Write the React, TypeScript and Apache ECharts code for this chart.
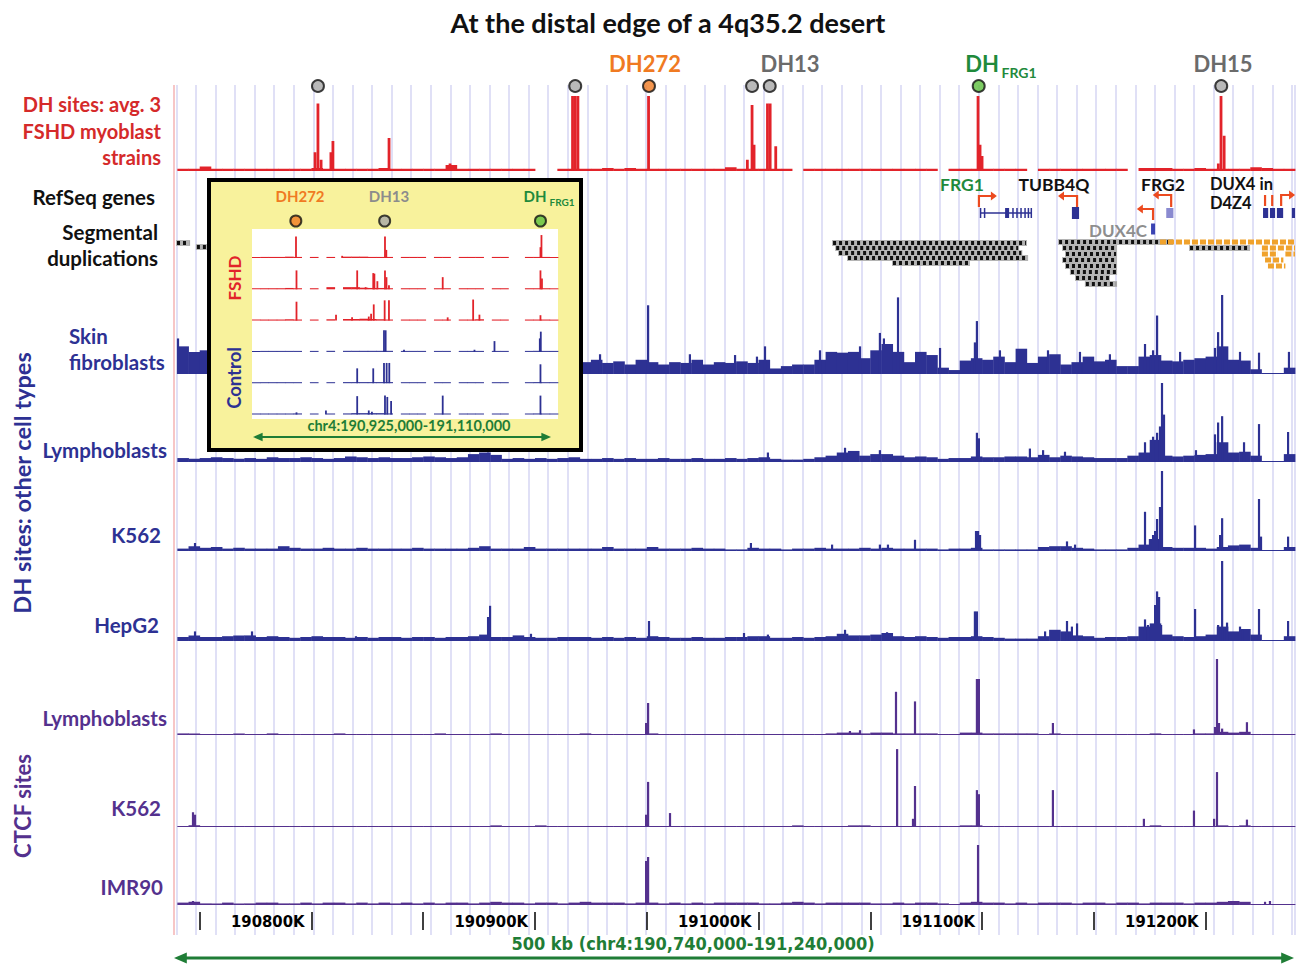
import { useEffect, useRef } from 'react';
import * as echarts from 'echarts';

// ---------- genomic ranges (kb) ----------
const MAIN_MIN = 190738.5;
const MAIN_MAX = 191240;
const BIN_START = 190740;
const BIN_KB = 5;
const INSET_MIN = 190925;
const INSET_MAX = 191110;
const INSET_BIN_KB = 5;
const RULER_MIN = 190750;
const RULER_MAX = 191250;
const RULER_STEP = 50;

// ---------- DH site markers ----------
const dhSiteKb = [190802.9, 190918.0, 190951.0, 190997.1, 191005.0, 191098.5, 191207.0];
const dhSiteColor = ['gray', 'gray', 'orange', 'gray', 'gray', 'green', 'gray'];
const insetSiteKb = [190951.5, 191005.2, 191099.4];
const insetSiteColor = ['orange', 'gray', 'green'];

// ---------- main tracks: 5 kb background bins + peaks [kb, height %] ----------
const fshdBase = [3,3,6,3,3,3,3,3,3,3, 3,3,4,3,3,3,3,3,4,3, 3,3,3,3,8,3,3,3,3,3, 3,3,null,null,3,3,3,3,4,3, 4,3,3,3,3,3,3,3,3,5, 3,3,3,3,3,null,3,3,3,3, 3,3,3,3,3,3,3,3,null,3, 3,3,3,3,3,3,null,3,3,3, 3,3,3,3,3,null,4,4,4,3, 3,4,3,3,3,3,5,4,3,3];
const fshdPeaks = [[190801.6,25],[190802.9,90],[190804.3,15],[190808.7,25],[190809.6,40],[190834.7,44],[190862.0,10],[190916.8,100],[190918.0,100],[190919.2,100],[190950.8,100],[190995.0,15],[190997.1,88],[190998.0,35],[191004.0,90],[191005.2,90],[191007.7,33],[191098.2,100],[191099.1,35],[191100.0,20],[191205.7,10],[191206.9,100],[191208.3,47]];

const skinBase = [35,28,30,18,20,16,22,18,20,17, 19,22,18,16,21,19,17,23,18,20, 16,18,21,19,17,20,18,22,19,16, 20,18,17,21,19,16,15,18,14,16, 12,18,15,12,15,14,18,12,15,14, 16,14,18,7,10,12,12,18,28,27, 28,20,30,38,28,15,28,24,8,5, 17,20,18,22,15,32,14,22,25,12, 15,22,16,18,10,10,22,24,17,16, 18,20,22,35,18,17,6,0,0,8];
const skinPeaks = [[190740.3,45],[190929.1,25],[190950.6,87],[190969.3,25],[190989.5,24],[190999.3,22],[191002.9,35],[191027.5,30],[191045.4,35],[191054.3,52],[191056.1,45],[191062.4,97],[191081.2,33],[191096.8,40],[191097.7,67],[191108.0,30],[191129.5,30],[191143.8,28],[191157.2,25],[191172.9,38],[191176.5,30],[191178.3,74],[191188.6,28],[191204.2,33],[191205.6,53],[191207.4,100],[191215.4,28],[191223.9,27],[191237.3,28]];

const lymphDhBase = [5,4,5,6,5,4,5,4,6,5, 5,6,5,4,5,7,6,5,6,5, 5,6,7,6,5,6,10,12,9,4, 5,4,5,4,5,6,4,4,5,4, 5,4,4,5,4,4,5,4,4,5, 4,5,6,4,3,3,4,6,8,12, 14,8,10,10,8,6,7,6,4,5, 5,7,6,6,7,7,6,9,6,8, 7,6,5,5,5,8,12,28,8,7, 8,9,10,25,12,13,8,0,0,10];
const lymphDhPeaks = [[190879.0,12],[191004.2,12],[191038.7,18],[191054.3,15],[191097.7,37],[191098.6,30],[191121.4,17],[191127.3,15],[191137.1,13],[191172.9,25],[191176.5,32],[191178.3,37],[191179.6,45],[191180.5,100],[191181.4,60],[191195.7,15],[191204.2,35],[191205.6,50],[191207.4,58],[191217.2,25],[191223.9,48],[191236.9,38]];

const k562DhBase = [3,6,4,5,3,4,3,3,3,6, 4,3,3,4,3,3,4,3,3,3, 3,4,3,3,3,3,4,6,3,3, 3,5,3,3,3,3,3,3,5,3, 3,3,5,3,3,3,4,3,3,2, 2,4,3,3,2,3,3,4,3,3, 3,4,3,4,3,3,3,3,2,3, 3,4,2,2,2,2,2,5,6,6, 4,3,2,2,2,4,8,15,5,4, 4,4,3,5,7,8,4,0,0,5];
const k562DhPeaks = [[190747.9,10],[190996.6,10],[191032.9,8],[191054.3,8],[191057.9,8],[191070.0,14],[191097.3,25],[191098.2,25],[191099.1,20],[191138.0,12],[191141.6,8],[191172.9,49],[191175.1,15],[191176.5,20],[191177.4,25],[191178.3,40],[191179.6,55],[191180.5,100],[191195.3,32],[191206.5,20],[191207.4,41],[191223.9,65],[191224.8,18],[191236.9,18]];

const hepg2Base = [5,7,5,5,6,7,7,5,6,5, 4,5,6,5,5,4,5,4,5,5, 4,5,5,4,5,5,6,8,5,5, 7,5,4,4,5,5,5,4,5,4, 5,4,6,5,4,4,5,4,4,5, 5,6,6,4,4,5,4,5,6,9, 7,7,8,10,6,5,6,5,4,5, 5,6,5,4,3,3,3,6,14,12, 7,6,4,5,5,6,18,22,8,6, 5,6,8,18,12,15,8,0,0,6];
const hepg2Peaks = [[190747.9,12],[190773.4,12],[190819.9,6],[190879.0,30],[190879.9,44],[190898.2,9],[190951.0,25],[190993.5,10],[191004.2,8],[191038.7,14],[191057.5,11],[191096.8,37],[191097.7,37],[191128.2,12],[191138.0,25],[191140.2,18],[191142.5,22],[191172.9,27],[191174.2,20],[191177.4,45],[191178.3,62],[191179.2,55],[191180.1,20],[191195.3,40],[191205.6,20],[191207.4,100],[191209.6,23],[191215.4,18],[191217.6,15],[191223.9,40],[191236.9,25]];

const ctcfLymphBase = [2,2,1,1,1,2,1,1,2,1, 1,1,1,1,2,1,1,1,1,1, 1,1,1,2,1,1,1,1,2,1, 1,1,1,1,1,1,2,1,1,1, 1,1,2,1,1,1,1,1,1,1, 1,1,1,1,1,1,1,1,2,3, 3,2,3,3,2,2,2,2,1,0, 3,3,2,2,2,2,2,1,2,1, 1,1,1,1,1,1,1,2,1,1, 1,2,2,4,3,4,1,0,0,1];
const ctcfLymphPeaks = [[190949.7,15],[190950.6,40],[191040.9,5],[191045.4,6],[191061.5,54],[191070.0,42],[191097.7,70],[191098.6,70],[191131.7,15],[191194.8,7],[191204.2,10],[191205.1,95],[191206.0,15],[191207.4,8],[191218.5,16]];

const ctcfK562Base = [1,2,1,1,1,1,1,1,1,1, 1,1,1,1,1,1,1,1,1,1, 1,1,1,1,1,1,1,1,2,1, 1,1,2,1,1,1,1,1,1,1, 1,1,1,1,1,1,1,1,1,1, 1,1,1,1,1,2,1,1,1,1, 2,2,1,1,1,1,1,1,1,1, 2,2,1,1,1,1,1,1,1,1, 1,1,1,1,1,1,1,2,1,1, 1,1,1,2,1,2,1,1,1,1];
const ctcfK562Peaks = [[190747.0,18],[190747.9,15],[190949.7,15],[190950.6,55],[190960.4,17],[191062.0,95],[191069.1,10],[191070.0,50],[191097.7,45],[191098.6,40],[191131.7,45],[191172.4,10],[191194.8,20],[191203.8,10],[191205.1,67],[191218.5,9]];

const imr90Base = [3,4,2,2,3,2,2,3,3,2, 2,3,2,3,3,2,3,2,3,2, 3,2,3,2,3,3,2,3,4,3, 3,2,3,3,2,3,4,3,3,3, 2,3,3,2,3,2,3,2,3,3, 3,3,2,2,3,4,3,2,3,3, 3,3,2,2,3,2,3,3,2,1, 3,4,3,3,2,3,2,3,3,3, 2,3,3,2,3,3,2,3,3,3, 2,3,3,4,5,4,1,1,1,1];
const imr90Peaks = [[190747.0,5],[190949.7,55],[190950.6,60],[191098.2,75],[191226.6,4],[191228.8,5]];

// ---------- inset tracks (chr4:190,925,000-191,110,000) ----------
const insetFshd1Base = [4,4,4,4,5,4,null,4,null,4, null,5,5,5,4,4,4,null,4,4, 4,null,4,4,null,4,4,4,null,4, 4,null,null,4,4,4,3];
const insetFshd2Base = [4,4,4,4,5,4,null,4,null,8, null,8,8,6,5,5,4,null,4,4, 4,null,4,4,null,4,4,4,null,4, 4,null,null,4,4,4,3];
const insetFshd3Base = [4,4,4,4,5,4,null,4,null,5, null,6,6,7,6,5,4,null,4,4, 4,null,4,4,null,4,4,5,null,4, 4,null,null,4,4,4,3];
const insetCtl1Base = [3,3,3,3,3,3,null,3,null,4, null,4,4,4,4,4,4,null,3,3, 3,null,3,3,null,3,3,3,null,3, 3,null,null,3,4,3,3];
const insetCtl2Base = [3,3,3,3,3,3,null,3,null,3, null,4,4,4,4,4,4,null,3,3, 3,null,3,3,null,3,3,3,null,3, 3,null,null,3,4,3,3];
const insetCtl3Base = [3,3,3,3,3,4,null,3,null,3, null,4,5,5,5,5,4,null,3,3, 3,null,3,3,null,3,3,3,null,3, 3,null,null,3,4,3,3];
const insetFshd1Peaks = [[190951.6,80],[190979.5,8],[191005.4,80],[191006.2,30],[191099.4,40],[191100.0,85]];
const insetFshd2Peaks = [[190951.9,70],[190988.6,70],[190993.7,8],[190998.3,60],[190999.0,58],[191000.8,30],[191005.4,70],[191006.3,45],[191007.8,15],[191040.3,45],[191099.4,70],[191100.3,40]];
const insetFshd3Peaks = [[190951.9,70],[190975.8,22],[190985.5,12],[190995.6,15],[190997.0,25],[190998.6,60],[191005.2,75],[191007.8,75],[191043.3,12],[191058.7,78],[191062.5,22],[191099.4,20]];
const insetCtl1Peaks = [[191004.8,80],[191005.8,80],[191016.9,8],[191059.5,8],[191071.6,40],[191099.0,50],[191099.6,75]];
const insetCtl2Peaks = [[190988.6,55],[190998.3,55],[191004.8,75],[191006.4,75],[191008.0,75],[191099.4,70]];
const insetCtl3Peaks = [[190951.9,8],[190969.7,15],[190988.6,68],[190995.6,15],[190997.5,10],[191005.4,70],[191006.8,65],[191009.1,50],[191040.3,70],[191099.4,70]];

// ---------- RefSeq genes ----------
const geneIntrons = [[191099.1, 191122.2, 37]];
const geneExons = [
  [191099.0,191099.6,37,5,0],[191100.8,191101.4,37,5,0],[191110.3,191112.1,37,5,0],[191113.5,191114.0,37,5,0],
  [191115.3,191115.8,37,5,0],[191117.1,191117.6,37,5,0],[191118.9,191119.4,37,5,0],[191120.4,191120.9,37,5,0],[191121.7,191122.2,37,5,0],
  [191140.2,191143.4,37,6,0],
  [191182.4,191185.6,37,5,1],
  [191175.6,191177.4,53,5.5,2],
  [191225.7,191228.0,37,5,0],[191228.8,191231.1,37,5,0],[191231.9,191234.7,37,5,0],[191238.6,191240.0,37,5,0],
];
const tssArrows = [
  [191098.6,31,20,5.8],[191142.5,31,20,-6.3],[191184.6,31,19,-6.0],[191176.5,44,33,-5.0],
  [191226.6,30,19,0],[191229.8,30,19,0],[191233.8,30,19,4.0],
];
const segDups = [
  [190739.4,190745.7,67,0],[190748.3,190753.3,71,0],
  [191032.9,191120.1,67,0],[191034.3,191116.6,72,0],[191035.6,191118.0,77,0],[191039.6,191120.6,82,0],[191059.7,191094.6,87,0],
  [191134.0,191185.4,66,0],[191135.8,191160.4,72,0],[191137.1,191160.4,78,0],[191135.8,191160.4,84,0],[191137.1,191160.4,90,0],[191139.3,191160.4,96,0],[191141.6,191157.2,102,0],[191146.0,191160.4,108,0],
  [191179.6,191240.0,66,1],[191192.6,191219.9,72,0],[191225.2,191240.0,72,1],[191225.2,191232.4,78,1],[191235.7,191240.0,78,1],[191226.6,191234.8,84,1],[191227.9,191235.7,90,1],
];

// ---------- styling ----------
const RED = '#e2232a';
const NAVY = '#2d3193';
const PURPLE = '#54318e';
const GREEN = '#1f7d36';
const ARROW_RED = '#ec4a1f';
const SITE_COLORS: Record<string, string> = { gray: '#a8a8a8', orange: '#f07a22', green: '#5dbf3c' };
const EXON_COLORS = [NAVY, '#8a8ad0', '#3a43b3'];
const FONT = 'Lato, "Noto Sans", sans-serif';
const NARROW = '"DejaVu Sans Condensed", "Liberation Sans Narrow", Lato, sans-serif';
const LBL = 20.5;

function buildOption() {
  const grids: any[] = [];
  const xAxes: any[] = [];
  const yAxes: any[] = [];
  const series: any[] = [];
  const pxPerKb = 1121 / (MAIN_MAX - MAIN_MIN);

  const addGrid = (box: any, xr: number[], yr: number[], yInverse = false, xExtra: any = {}) => {
    const gi = grids.length;
    grids.push({ ...box, containLabel: false, outerBoundsMode: 'none' });
    xAxes.push({ gridIndex: gi, type: 'value', min: xr[0], max: xr[1], show: false, ...xExtra });
    yAxes.push({ gridIndex: gi, type: 'value', min: yr[0], max: yr[1], show: false, inverse: yInverse });
    return gi;
  };

  // guidelines
  addGrid({ left: 176.4, right: 2, top: 85, bottom: 32 }, [0, 57.16], [0, 1], false, {
    show: true, interval: 1, axisLine: { show: false }, axisTick: { show: false }, axisLabel: { show: false },
    splitLine: { show: true, lineStyle: { color: '#d6d6f3', width: 1.5 } }, z: 0,
  });

  // ruler
  const rulerLeft = 174 + (RULER_MIN - MAIN_MIN) * pxPerKb;
  const rulerRight = 1297 - (174 + (RULER_MAX - MAIN_MIN) * pxPerKb);
  addGrid({ left: rulerLeft, right: rulerRight, top: 900, height: 12 }, [RULER_MIN, RULER_MAX], [0, 1], false, {
    show: true, interval: RULER_STEP, position: 'bottom',
    axisLine: { show: false },
    axisTick: { show: true, length: 18, lineStyle: { color: '#000', width: 1.5 } },
    splitLine: { show: false },
    axisLabel: {
      show: true, margin: 9, align: 'right', verticalAlign: 'middle', padding: [0, 7, 0, 0],
      fontSize: 16.5, fontWeight: 'bold', fontFamily: NARROW, color: '#000',
      formatter: (v: number) => (Math.round(v) % 100 === 0 && v < MAIN_MAX ? `${Math.round(v)}K` : ''),
    },
  });

  // markers above the FSHD track
  const gMk = addGrid({ left: 174, right: 2, top: 80, height: 12 }, [MAIN_MIN, MAIN_MAX], [0, 1]);
  series.push({
    type: 'scatter', xAxisIndex: gMk, yAxisIndex: gMk, symbol: 'circle', symbolSize: 12, z: 5, silent: true,
    data: dhSiteKb.map((k, i) => ({ value: [k, 0.5], itemStyle: { color: SITE_COLORS[dhSiteColor[i]], borderColor: '#111', borderWidth: 2 } })),
  });

  const binData = (arr: (number | null)[], start: number, step: number) =>
    arr.map((v, i) => (v === null ? null : [start + step * i, start + step * (i + 1), v])).filter((d) => d !== null);

  const addTrack = (top: number, height: number, color: string, base: (number | null)[], peaks: number[][], bw: number, xr: number[], box: any, start: number, step: number, z = 2) => {
    const gi = addGrid({ ...box, top, height }, xr, [0, 100]);
    series.push({
      type: 'custom', xAxisIndex: gi, yAxisIndex: gi, silent: true, z,
      data: binData(base, start, step),
      renderItem: (_p: any, api: any) => {
        const a = api.coord([api.value(0), api.value(2)]);
        const b = api.coord([api.value(1), 0]);
        const h = Math.max(b[1] - a[1], 1);
        return { type: 'rect', shape: { x: a[0], y: b[1] - h, width: b[0] - a[0] + 0.4, height: h }, style: { fill: color } };
      },
    });
    series.push({
      type: 'bar', xAxisIndex: gi, yAxisIndex: gi, barWidth: bw, silent: true, z: z + 1,
      itemStyle: { color }, data: peaks.map((p) => [p[0], p[1]]),
    });
  };

  const mainBox = { left: 174, right: 2 };
  const mainX = [MAIN_MIN, MAIN_MAX];
  addTrack(96, 75, RED, fshdBase, fshdPeaks, 2.8, mainX, mainBox, BIN_START, BIN_KB);
  addTrack(295, 79, NAVY, skinBase, skinPeaks, 2.2, mainX, mainBox, BIN_START, BIN_KB);
  addTrack(383, 79, NAVY, lymphDhBase, lymphDhPeaks, 2.2, mainX, mainBox, BIN_START, BIN_KB);
  addTrack(471, 80, NAVY, k562DhBase, k562DhPeaks, 2.2, mainX, mainBox, BIN_START, BIN_KB);
  addTrack(561, 80, NAVY, hepg2Base, hepg2Peaks, 2.2, mainX, mainBox, BIN_START, BIN_KB);
  addTrack(655, 80, PURPLE, ctcfLymphBase, ctcfLymphPeaks, 2.2, mainX, mainBox, BIN_START, BIN_KB);
  addTrack(745, 82, PURPLE, ctcfK562Base, ctcfK562Peaks, 2.2, mainX, mainBox, BIN_START, BIN_KB);
  addTrack(825, 80, PURPLE, imr90Base, imr90Peaks, 2.2, mainX, mainBox, BIN_START, BIN_KB);

  // genes + segmental duplications
  const gGene = addGrid({ left: 174, right: 2, top: 176, height: 114 }, mainX, [0, 114], true);
  series.push({
    type: 'custom', xAxisIndex: gGene, yAxisIndex: gGene, silent: true, z: 4, data: segDups,
    renderItem: (_p: any, api: any) => {
      const a = api.coord([api.value(0), api.value(2)]);
      const b = api.coord([api.value(1), api.value(2)]);
      if (api.value(3) === 1) {
        return { type: 'line', shape: { x1: a[0], y1: a[1], x2: b[0], y2: a[1] }, style: { stroke: '#f0a22c', lineWidth: 5, lineDash: [6, 2] } };
      }
      return {
        type: 'group', children: [
          { type: 'rect', shape: { x: a[0], y: a[1] - 3, width: b[0] - a[0], height: 6 }, style: { fill: '#b4b4b4' } },
          { type: 'line', shape: { x1: a[0] + 1, y1: a[1], x2: b[0] - 1, y2: a[1] }, style: { stroke: '#111', lineWidth: 4, lineDash: [3, 3] } },
        ],
      };
    },
  });
  series.push({
    type: 'custom', xAxisIndex: gGene, yAxisIndex: gGene, silent: true, z: 4, data: geneIntrons,
    renderItem: (_p: any, api: any) => {
      const a = api.coord([api.value(0), api.value(2)]);
      const b = api.coord([api.value(1), api.value(2)]);
      return { type: 'line', shape: { x1: a[0], y1: a[1], x2: b[0], y2: b[1] }, style: { stroke: NAVY, lineWidth: 1.5 } };
    },
  });
  series.push({
    type: 'custom', xAxisIndex: gGene, yAxisIndex: gGene, silent: true, z: 5, data: geneExons,
    renderItem: (_p: any, api: any) => {
      const a = api.coord([api.value(0), api.value(2)]);
      const b = api.coord([api.value(1), api.value(2)]);
      const h = api.value(3);
      return { type: 'rect', shape: { x: a[0], y: a[1] - h, width: Math.max(b[0] - a[0], 1.5), height: 2 * h }, style: { fill: EXON_COLORS[api.value(4)] } };
    },
  });
  series.push({
    type: 'custom', xAxisIndex: gGene, yAxisIndex: gGene, silent: true, z: 5, data: tssArrows,
    renderItem: (_p: any, api: any) => {
      const k = api.value(0); const dx = api.value(3);
      const p0 = api.coord([k, api.value(1)]);
      const p1 = api.coord([k, api.value(2)]);
      const p2 = api.coord([k + dx, api.value(2)]);
      const children: any[] = [{ type: 'polyline', shape: { points: [p0, p1, p2] }, style: { stroke: ARROW_RED, lineWidth: 2.2, fill: 'none' } }];
      if (dx !== 0) {
        const d = dx > 0 ? 1 : -1;
        children.push({ type: 'polygon', shape: { points: [[p2[0] + d * 5, p2[1]], [p2[0] - d * 1, p2[1] - 4.5], [p2[0] - d * 1, p2[1] + 4.5]] }, style: { fill: ARROW_RED } });
      }
      return { type: 'group', children };
    },
  });

  // inset
  const insetBox = { left: 252, right: 739 };
  const insetX = [INSET_MIN, INSET_MAX];
  const insetTracks: [string, (number | null)[], number[][]][] = [
    [RED, insetFshd1Base, insetFshd1Peaks], [RED, insetFshd2Base, insetFshd2Peaks], [RED, insetFshd3Base, insetFshd3Peaks],
    [NAVY, insetCtl1Base, insetCtl1Peaks], [NAVY, insetCtl2Base, insetCtl2Peaks], [NAVY, insetCtl3Base, insetCtl3Peaks],
  ];
  insetTracks.forEach(([c, b, p], i) => addTrack(231 + 31.3 * i, 27, c, b, p, 1.8, insetX, insetBox, INSET_MIN, INSET_BIN_KB, 60));
  const gInMk = addGrid({ ...insetBox, top: 215, height: 12 }, insetX, [0, 1]);
  series.push({
    type: 'scatter', xAxisIndex: gInMk, yAxisIndex: gInMk, symbol: 'circle', symbolSize: 11, z: 62, silent: true,
    data: insetSiteKb.map((k, i) => ({ value: [k, 0.5], itemStyle: { color: SITE_COLORS[insetSiteColor[i]], borderColor: '#111', borderWidth: 2 } })),
  });

  // ---------- graphic texts / decorations ----------
  const txt = (text: string, x: number, y: number, size: number, color: string, align = 'center', extra: any = {}) => ({
    type: 'text', x, y, z: extra.z ?? 10, rotation: extra.rot ?? 0, silent: true,
    style: {
      text, fill: color, font: `bold ${size}px ${extra.font ?? FONT}`,
      align, verticalAlign: 'middle', textAlign: align, textVerticalAlign: 'middle',
    },
  });
  const arrow = (x1: number, x2: number, y: number, w: number, head: number, z: number) => ([
    { type: 'line', z, silent: true, shape: { x1: x1 + head, y1: y, x2: x2 - head, y2: y }, style: { stroke: GREEN, lineWidth: w } },
    { type: 'polygon', z, silent: true, shape: { points: [[x1, y], [x1 + head * 1.6, y - head * 0.7], [x1 + head * 1.6, y + head * 0.7]] }, style: { fill: GREEN } },
    { type: 'polygon', z, silent: true, shape: { points: [[x2, y], [x2 - head * 1.6, y - head * 0.7], [x2 - head * 1.6, y + head * 0.7]] }, style: { fill: GREEN } },
  ]);

  const graphic: any[] = [
    { type: 'line', z: 1, silent: true, shape: { x1: 174, y1: 85, x2: 174, y2: 935 }, style: { stroke: '#f4b3b3', lineWidth: 1.5 } },
    txt('At the distal edge of a 4q35.2 desert', 668, 22, 27, '#111'),
    txt('DH272', 645, 63, 22, '#f07a22'),
    txt('DH13', 790, 63, 22, '#6b6b6b'),
    txt('DH', 982, 63, 22, '#1f8a3c'),
    txt('FRG1', 1019, 72, 14, '#1f8a3c'),
    txt('DH15', 1223, 63, 22, '#6b6b6b'),
    txt('DH sites: avg. 3', 161, 104, 20, '#d52a2a', 'right'),
    txt('FSHD myoblast', 161, 131, 20, '#d52a2a', 'right'),
    txt('strains', 161, 157, 20, '#d52a2a', 'right'),
    txt('RefSeq genes', 155, 197, LBL, '#111', 'right'),
    txt('Segmental', 158, 232, LBL, '#111', 'right'),
    txt('duplications', 158, 258, LBL, '#111', 'right'),
    txt('Skin', 69, 336, LBL, NAVY, 'left'),
    txt('fibroblasts', 69, 362, LBL, NAVY, 'left'),
    txt('Lymphoblasts', 167, 450, LBL, NAVY, 'right'),
    txt('K562', 161, 535, LBL, NAVY, 'right'),
    txt('HepG2', 159, 625, LBL, NAVY, 'right'),
    txt('Lymphoblasts', 167, 718, LBL, PURPLE, 'right'),
    txt('K562', 161, 808, LBL, PURPLE, 'right'),
    txt('IMR90', 163, 887, LBL, PURPLE, 'right'),
    txt('DH sites: other cell types', 22, 483, 23.5, NAVY, 'center', { rot: Math.PI / 2 }),
    txt('CTCF sites', 22, 806, 22, PURPLE, 'center', { rot: Math.PI / 2 }),
    txt('FRG1', 962, 184, 17.5, '#1f8a3c'),
    txt('TUBB4Q', 1054, 184, 17.5, '#111'),
    txt('FRG2', 1163, 184, 17.5, '#111'),
    txt('DUX4 in', 1210, 184, 16.5, '#111', 'left'),
    txt('D4Z4', 1210, 202.5, 16.5, '#111', 'left'),
    txt('DUX4C', 1118, 230, 17, '#8e8e8e'),
    txt('500 kb (chr4:190,740,000-191,240,000)', 693, 943, 18, GREEN, 'center', { font: NARROW }),
    ...arrow(174, 1294, 958, 3, 8, 10),
    // inset box
    { type: 'rect', z: 50, silent: true, shape: { x: 209, y: 180, width: 372, height: 270 }, style: { fill: '#f8f29c', stroke: '#000', lineWidth: 4 } },
    { type: 'rect', z: 51, silent: true, shape: { x: 252, y: 229, width: 306, height: 190 }, style: { fill: '#ffffff' } },
    txt('DH272', 300, 196, 15, '#f07a22', 'center', { z: 62 }),
    txt('DH13', 389, 196, 15, '#8c8c8c', 'center', { z: 62 }),
    txt('DH', 535, 196, 15, '#1f8a3c', 'center', { z: 62 }),
    txt('FRG1', 562, 202, 10, '#1f8a3c', 'center', { z: 62 }),
    txt('FSHD', 234, 278, 17, '#e2232a', 'center', { z: 62, rot: Math.PI / 2 }),
    txt('Control', 234, 378, 18.5, NAVY, 'center', { z: 62, rot: Math.PI / 2 }),
    txt('chr4:190,925,000-191,110,000', 409, 425, 14.5, GREEN, 'center', { z: 62 }),
    ...arrow(253, 551, 437, 2, 6, 62),
  ];

  return {
    animation: false,
    backgroundColor: '#ffffff',
    grid: grids,
    xAxis: xAxes,
    yAxis: yAxes,
    series,
    graphic: { elements: graphic },
  };
}

export default function App() {
  const ref = useRef<HTMLDivElement>(null);
  useEffect(() => {
    document.body.style.margin = '0';
    const chart = echarts.init(ref.current!, null, { renderer: 'svg' });
    chart.setOption(buildOption() as any);
    return () => chart.dispose();
  }, []);
  return <div ref={ref} style={{ width: 1297, height: 967, background: '#fff' }} />;
}
